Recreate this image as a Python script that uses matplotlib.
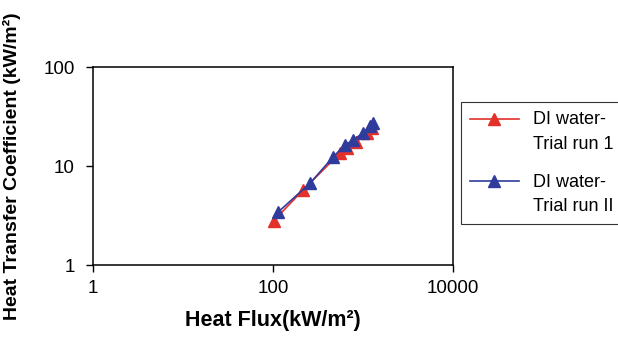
import matplotlib
matplotlib.use("Agg")
import matplotlib.pyplot as plt
from matplotlib.ticker import FixedLocator, NullLocator, FixedFormatter
from matplotlib.legend_handler import HandlerLine2D

plt.rcParams['font.family'] = ['Liberation Sans', 'DejaVu Sans']

# data
flux_run1 = [102, 215, 555, 664, 836, 1108, 1259]
htc_run1 = [2.8, 5.7, 13.5, 15.2, 17.5, 21.5, 24.2]
flux_run2 = [113, 258, 464, 631, 774, 1000, 1196, 1292]
htc_run2 = [3.4, 6.7, 12.3, 16.3, 18.3, 21.5, 25.4, 27.2]
labels = ['DI water-\nTrial run 1', 'DI water-\nTrial run II']

red = '#e4302b'
blue = '#2f3c9c'


class UpHandler(HandlerLine2D):
    # put the legend line beside the first text line
    def create_artists(self, legend, orig_handle, xdescent, ydescent,
                       width, height, fontsize, trans):
        arts = super().create_artists(legend, orig_handle, xdescent, ydescent,
                                      width, height, fontsize, trans)
        for a in arts:
            y = a.get_ydata()
            a.set_ydata([v + 0.75 * fontsize for v in y])
        return arts


fig = plt.figure(figsize=(6.18, 3.47), dpi=100)
ax = fig.add_axes([0.1505, 0.2363, 0.5825, 0.5706])

ax.plot(flux_run1, htc_run1, color=red, lw=1.2, marker='^', ms=8,
        mec=red, mfc=red, label=labels[0])
ax.plot(flux_run2, htc_run2, color=blue, lw=1.2, marker='^', ms=8,
        mec=blue, mfc=blue, label=labels[1])

ax.set_xscale('log')
ax.set_yscale('log')
ax.set_xlim(1, 10000)
ax.set_ylim(1, 100)
ax.xaxis.set_major_locator(FixedLocator([1, 100, 10000]))
ax.xaxis.set_major_formatter(FixedFormatter(['1', '100', '10000']))
ax.yaxis.set_major_locator(FixedLocator([1, 10, 100]))
ax.yaxis.set_major_formatter(FixedFormatter(['1', '10', '100']))
ax.xaxis.set_minor_locator(NullLocator())
ax.yaxis.set_minor_locator(NullLocator())
ax.tick_params(direction='out', length=5, width=1, labelsize=13.5, colors='black')
ax.tick_params(axis='x', pad=6)
ax.tick_params(axis='y', pad=8)
for s in ax.spines.values():
    s.set_linewidth(1.1)

ax.set_xlabel('Heat Flux(kW/m²)', fontsize=15.5, fontweight='bold', labelpad=9)
ax.set_ylabel('Heat Transfer Coefficient (kW/m²)', fontsize=14, fontweight='bold')
ax.yaxis.set_label_coords(-0.2, 0.5)

leg = ax.legend(loc='upper left', bbox_to_anchor=(1.022, 0.823), borderaxespad=0,
                fontsize=13, frameon=True, fancybox=False, edgecolor='black',
                handlelength=2.7, handletextpad=0.8, labelspacing=1.15,
                borderpad=0.5, handler_map={plt.Line2D: UpHandler()})
leg.get_frame().set_linewidth(0.8)
for t in leg.get_texts():
    t.set_linespacing(1.6)

fig.savefig('out.png', dpi=100)
